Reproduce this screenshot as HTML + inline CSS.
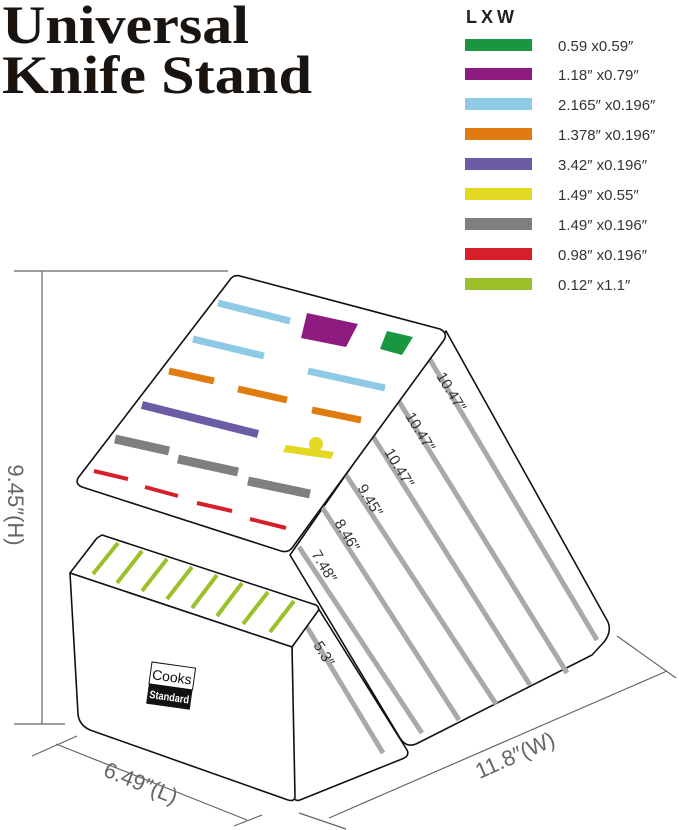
<!DOCTYPE html>
<html><head><meta charset="utf-8"><style>
html,body{margin:0;padding:0;background:#fff;}
svg{display:block;}
</style></head><body>
<svg width="679" height="830" viewBox="0 0 679 830" xmlns="http://www.w3.org/2000/svg" font-family="Liberation Sans, sans-serif">
<rect width="679" height="830" fill="#fff"/>
<text x="2" y="43" font-family="Liberation Serif, serif" font-weight="bold" font-size="54" fill="#1a1410" textLength="247" lengthAdjust="spacingAndGlyphs">Universal</text>
<text x="2" y="93" font-family="Liberation Serif, serif" font-weight="bold" font-size="54" fill="#1a1410" textLength="310" lengthAdjust="spacingAndGlyphs">Knife Stand</text>
<text x="466" y="23" font-weight="bold" font-size="18" fill="#222" letter-spacing="4">LXW</text>
<g>
<rect x="465" y="39" width="67" height="12" fill="#1a9640"/>
<rect x="465" y="68" width="67" height="12" fill="#8e1b7f"/>
<rect x="465" y="98" width="67" height="12" fill="#8ecae6"/>
<rect x="465" y="128" width="67" height="12" fill="#e07b10"/>
<rect x="465" y="158" width="67" height="12" fill="#6a5ba3"/>
<rect x="465" y="188" width="67" height="12" fill="#e2d822"/>
<rect x="465" y="218" width="67" height="12" fill="#7f7f7f"/>
<rect x="465" y="248" width="67" height="12" fill="#d71f2a"/>
<rect x="465" y="278" width="67" height="12" fill="#9dbf2a"/>
</g>
<g font-size="15" fill="#333">
<text x="558" y="51">0.59 x0.59″</text>
<text x="558" y="80">1.18″ x0.79″</text>
<text x="558" y="110">2.165″ x0.196″</text>
<text x="558" y="140">1.378″ x0.196″</text>
<text x="558" y="170">3.42″ x0.196″</text>
<text x="558" y="200">1.49″ x0.55″</text>
<text x="558" y="230">1.49″ x0.196″</text>
<text x="558" y="260">0.98″ x0.196″</text>
<text x="558" y="290">0.12″ x1.1″</text>
</g>
<g stroke="#666" stroke-width="1.2" fill="none">
<line x1="14" y1="271" x2="228" y2="271"/>
<line x1="42" y1="271" x2="42" y2="724"/>
<line x1="14" y1="724" x2="65" y2="724"/>
<line x1="56" y1="744" x2="247" y2="820"/>
<line x1="32" y1="756" x2="77" y2="736"/>
<line x1="234" y1="826" x2="262" y2="815"/>
<line x1="329" y1="818" x2="667" y2="671"/>
<line x1="617" y1="636" x2="676" y2="678"/>
<line x1="299" y1="813" x2="346" y2="829"/>
</g>
<text transform="translate(8,505) rotate(90)" text-anchor="middle" font-size="22" fill="#666">9.45″(H)</text>
<text transform="translate(138,790) rotate(22)" text-anchor="middle" font-size="22" fill="#666">6.49″(L)</text>
<text transform="translate(518,762) rotate(-24)" text-anchor="middle" font-size="22" fill="#666">11.8″(W)</text>
<path d="M446,331 L608,622 Q612,632 604,642 L592,655 L416,744 Q406,748 400,738 L290,555 Z" fill="#fff" stroke="#111" stroke-width="1.6" stroke-linejoin="round"/>
<g stroke="#a9a9a9" stroke-width="5" stroke-linecap="butt">
<line x1="429" y1="358" x2="597" y2="640"/>
<line x1="398" y1="400" x2="567" y2="673"/>
<line x1="372" y1="435" x2="530" y2="685"/>
<line x1="346" y1="475" x2="496" y2="704"/>
<line x1="322" y1="507" x2="459" y2="720"/>
<line x1="299" y1="547" x2="422" y2="733"/>
</g>
<path d="M229,281 Q233,274 240,276 L440,329 Q448,333 444,340 L292,548 Q288,553 281,551 L82,487 Q75,484 78,478 Z" fill="#fff" stroke="#111" stroke-width="1.6" stroke-linejoin="round"/>
<g stroke-linecap="butt">
<line x1="218" y1="303" x2="290" y2="321" stroke="#8ecae6" stroke-width="7"/>
<line x1="193" y1="339" x2="264" y2="356" stroke="#8ecae6" stroke-width="7"/>
<line x1="308" y1="371" x2="385" y2="388" stroke="#8ecae6" stroke-width="7"/>
<line x1="169" y1="371" x2="214" y2="381" stroke="#e07b10" stroke-width="7"/>
<line x1="238" y1="389" x2="287" y2="400" stroke="#e07b10" stroke-width="7"/>
<line x1="312" y1="410" x2="361" y2="420" stroke="#e07b10" stroke-width="7"/>
<line x1="142" y1="405" x2="258" y2="434" stroke="#6a5ba3" stroke-width="8"/>
<line x1="115" y1="439" x2="169" y2="451" stroke="#7f7f7f" stroke-width="9"/>
<line x1="178" y1="459" x2="238" y2="472" stroke="#7f7f7f" stroke-width="9"/>
<line x1="248" y1="481" x2="310" y2="494" stroke="#7f7f7f" stroke-width="9"/>
<line x1="94" y1="471" x2="128" y2="479" stroke="#d71f2a" stroke-width="4"/>
<line x1="145" y1="487" x2="178" y2="496" stroke="#d71f2a" stroke-width="4"/>
<line x1="197" y1="503" x2="232" y2="511" stroke="#d71f2a" stroke-width="4"/>
<line x1="250" y1="519" x2="286" y2="528" stroke="#d71f2a" stroke-width="4"/>
</g>
<polygon points="307,313 358,324 346,347 301,338" fill="#8e1b7f"/>
<polygon points="387,331 413,337 402,355 380,349" fill="#1a9640"/>
<circle cx="316" cy="444" r="7" fill="#e2d822"/>
<polygon points="286,445 334,452 331,459 283,452" fill="#e2d822"/>
<path d="M318,608 L407,750 Q410,756 402,759 L300,800 Q294,802 294,795 L292,647 Z" fill="#fff" stroke="#111" stroke-width="1.6" stroke-linejoin="round"/>
<line x1="307" y1="627" x2="383" y2="753" stroke="#a9a9a9" stroke-width="5"/>
<path d="M102,535 L316,605 Q320,608 318,611 L292,647 L70,573 L97,538 Z" fill="#fff" stroke="#111" stroke-width="1.6" stroke-linejoin="round"/>
<g stroke="#9dbf2a" stroke-width="4">
<line x1="118" y1="543" x2="93" y2="574"/>
<line x1="142" y1="551" x2="117" y2="583"/>
<line x1="167" y1="559" x2="142" y2="591"/>
<line x1="192" y1="567" x2="167" y2="599"/>
<line x1="217" y1="575" x2="192" y2="608"/>
<line x1="242" y1="583" x2="217" y2="616"/>
<line x1="268" y1="592" x2="243" y2="624"/>
<line x1="294" y1="601" x2="270" y2="632"/>
</g>
<path d="M70,573 L292,647 L295,796 Q295,802 288,800 L90,730 Q79,725 78,714 Z" fill="#fff" stroke="#111" stroke-width="1.6" stroke-linejoin="round"/>
<g transform="translate(152,662) rotate(8)">
<rect x="0" y="0" width="44" height="22" fill="#fff" stroke="#111" stroke-width="1"/>
<rect x="0" y="22" width="44" height="20" fill="#111"/>
<text x="2" y="17" font-size="14" fill="#111">Cooks</text>
<text x="2" y="36" font-size="11" font-weight="bold" fill="#fff" textLength="40" lengthAdjust="spacingAndGlyphs">Standard</text>
</g>
<g font-size="15" fill="#333">
<text transform="translate(436,376) rotate(59)">10.47″</text>
<text transform="translate(405,416) rotate(59)">10.47″</text>
<text transform="translate(384,452) rotate(59)">10.47″</text>
<text transform="translate(357,488) rotate(59)">9.45″</text>
<text transform="translate(334,523) rotate(59)">8.46″</text>
<text transform="translate(311,554) rotate(59)">7.48″</text>
<text transform="translate(313,645) rotate(59)">5.3″</text>
</g>
</svg>
</body></html>
